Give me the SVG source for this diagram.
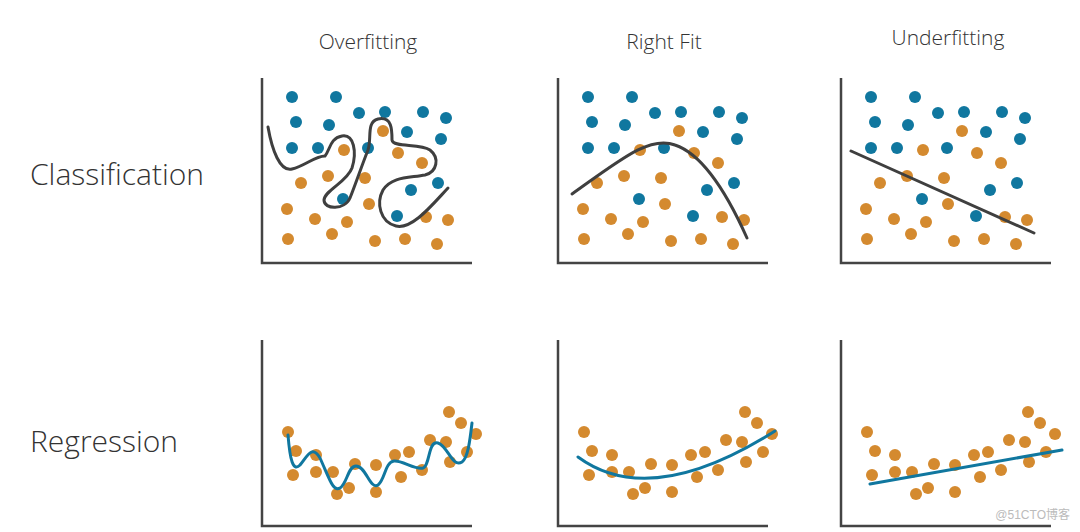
<svg xmlns="http://www.w3.org/2000/svg" xmlns:xlink="http://www.w3.org/1999/xlink" width="1080" height="532" viewBox="0 0 1080 532">
<style>
.b{fill:#10779f}.o{fill:#d48a2f}
.ax{fill:none;stroke:#444;stroke-width:2.5}
.cc{fill:none;stroke:#3f3f3f;stroke-width:3;stroke-linejoin:round;stroke-linecap:round}
.rc{fill:none;stroke:#10779f;stroke-width:3;stroke-linejoin:round;stroke-linecap:round}
.t{font-family:"Open Sans","Liberation Sans",sans-serif;font-weight:300;fill:#333}
</style>
<defs>
<g id="cdots">
<circle class="b" cx="292" cy="97" r="6"/><circle class="b" cx="336" cy="97" r="6"/><circle class="b" cx="296" cy="122" r="6"/><circle class="b" cx="329" cy="125" r="6"/><circle class="b" cx="359" cy="113" r="6"/><circle class="b" cx="385" cy="112" r="6"/><circle class="b" cx="423" cy="112" r="6"/><circle class="b" cx="446" cy="118" r="6"/><circle class="o" cx="383" cy="131" r="6"/><circle class="b" cx="407" cy="132" r="6"/><circle class="b" cx="441" cy="139" r="6"/><circle class="b" cx="292" cy="148" r="6"/><circle class="b" cx="318" cy="148" r="6"/><circle class="o" cx="344" cy="150" r="6"/><circle class="b" cx="368" cy="148" r="6"/><circle class="o" cx="398" cy="153" r="6"/><circle class="o" cx="422" cy="163" r="6"/><circle class="o" cx="301" cy="183" r="6"/><circle class="o" cx="328" cy="176" r="6"/><circle class="o" cx="365" cy="178" r="6"/><circle class="b" cx="411" cy="190" r="6"/><circle class="b" cx="438" cy="183" r="6"/><circle class="b" cx="343" cy="199" r="6"/><circle class="o" cx="369" cy="204" r="6"/><circle class="o" cx="287" cy="209" r="6"/><circle class="o" cx="315" cy="219" r="6"/><circle class="o" cx="347" cy="222" r="6"/><circle class="b" cx="397" cy="216" r="6"/><circle class="o" cx="426" cy="217" r="6"/><circle class="o" cx="448" cy="220" r="6"/><circle class="o" cx="288" cy="239" r="6"/><circle class="o" cx="332" cy="234" r="6"/><circle class="o" cx="375" cy="241" r="6"/><circle class="o" cx="405" cy="239" r="6"/><circle class="o" cx="437" cy="244" r="6"/>
</g>
<g id="rdots">
<circle class="o" cx="288" cy="432" r="6"/><circle class="o" cx="296" cy="451" r="6"/><circle class="o" cx="293" cy="475" r="6"/><circle class="o" cx="316" cy="455" r="6"/><circle class="o" cx="316" cy="472" r="6"/><circle class="o" cx="333" cy="472" r="6"/><circle class="o" cx="337" cy="494" r="6"/><circle class="o" cx="349" cy="488" r="6"/><circle class="o" cx="355" cy="464" r="6"/><circle class="o" cx="376" cy="465" r="6"/><circle class="o" cx="376" cy="492" r="6"/><circle class="o" cx="395" cy="455" r="6"/><circle class="o" cx="401" cy="477" r="6"/><circle class="o" cx="409" cy="452" r="6"/><circle class="o" cx="422" cy="470" r="6"/><circle class="o" cx="430" cy="440" r="6"/><circle class="o" cx="446" cy="442" r="6"/><circle class="o" cx="450" cy="462" r="6"/><circle class="o" cx="449" cy="412" r="6"/><circle class="o" cx="461" cy="423" r="6"/><circle class="o" cx="467" cy="452" r="6"/><circle class="o" cx="476" cy="434" r="6"/>
</g>
<path id="axc" class="ax" d="M262,78 V263 H472"/>
<path id="axr" class="ax" d="M262,340 V526 H472"/>
</defs>
<text class="t" x="368" y="49" font-size="21" text-anchor="middle">Overfitting</text>
<text class="t" x="664" y="49" font-size="21" text-anchor="middle">Right Fit</text>
<text class="t" x="948" y="45" font-size="21" text-anchor="middle">Underfitting</text>
<text class="t" x="30" y="185" font-size="30">Classification</text>
<text class="t" x="30" y="452" font-size="30">Regression</text>
<g id="panel-class-over"><use xlink:href="#axc"/><use xlink:href="#cdots"/></g>
<g id="panel-class-right" transform="translate(296,0)"><use xlink:href="#axc"/><use xlink:href="#cdots"/></g>
<g id="panel-class-under" transform="translate(579,0)"><use xlink:href="#axc"/><use xlink:href="#cdots"/></g>
<g id="panel-reg-over"><use xlink:href="#axr"/><use xlink:href="#rdots"/></g>
<g id="panel-reg-right" transform="translate(296,0)"><use xlink:href="#axr"/><use xlink:href="#rdots"/></g>
<g id="panel-reg-under" transform="translate(579,0)"><use xlink:href="#axr"/><use xlink:href="#rdots"/></g>
<g id="connectors">
<path class="cc" d="M268,127 C272,150 280,172 292,169 C305,166 315,156 325,156 C330,150 330,138 342,136 C354,134 357,152 352,168 C347,182 325,190 324,200 C324,210 345,210 350,198 C356,183 362,165 368,150 C372,138 366,122 378,119 C392,116 392,130 392,140 C393,148 420,143 430,150 C440,158 437,172 425,175 C410,178 392,176 383,190 C376,203 380,222 396,226 C412,230 432,205 448,188"/>
<path class="cc" d="M572,194 C620,160 650,135 675,145 C705,155 730,200 747,238"/>
<path class="cc" d="M851,151 L1034,233"/>
<path class="rc" d="M288,435 C290,460 293,472 300,465 C308,455 312,445 320,458 C330,480 333,492 340,488 C347,484 348,466 356,466 C366,466 370,490 378,485 C385,480 385,462 394,461 C402,460 415,470 423,468 C430,466 428,440 438,443 C448,446 452,468 462,462 C468,458 470,440 472,423"/>
<path class="rc" d="M578,457 Q650,510 775,431"/>
<path class="rc" d="M870,484 L1062,450"/>
</g>
<text x="1070" y="519" font-size="12" text-anchor="end" font-family="'Liberation Sans','Noto Sans CJK SC',sans-serif" fill="#bbb">@51CTO博客</text>
</svg>
